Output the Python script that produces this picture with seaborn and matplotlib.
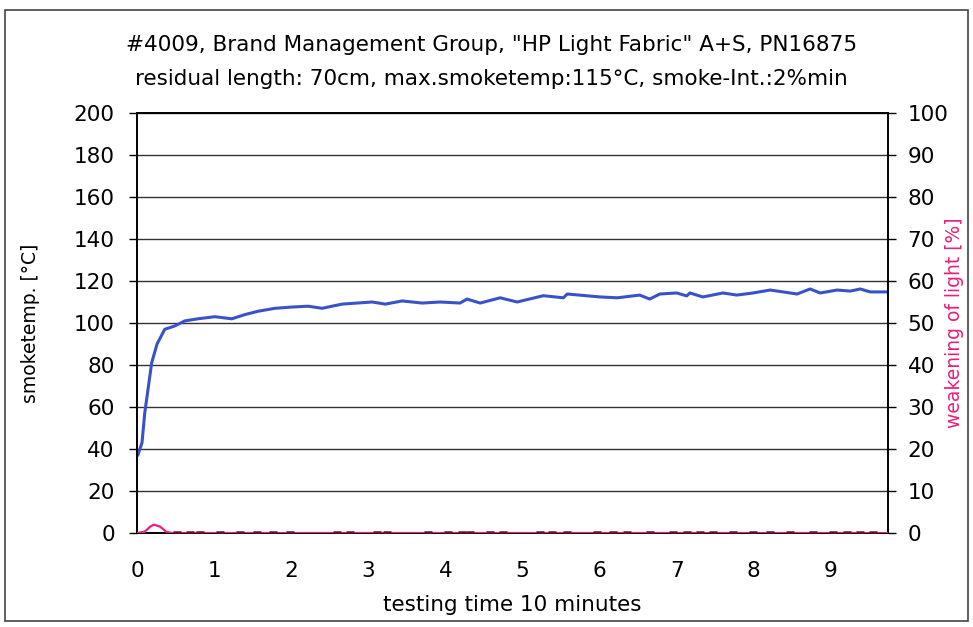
import matplotlib
matplotlib.use("Agg")
import matplotlib.pyplot as plt
import seaborn as sns
import pandas as pd
from matplotlib.patches import Rectangle

# ---- data ----
temp_time = [0.01, 0.065, 0.10, 0.19, 0.26, 0.36, 0.49, 0.62, 0.79, 1.01, 1.23, 1.40,
             1.57, 1.79, 2.01, 2.22, 2.40, 2.66, 3.05, 3.22, 3.44, 3.70, 3.93, 4.19,
             4.28, 4.45, 4.71, 4.93, 5.27, 5.53, 5.58, 6.01, 6.23, 6.52, 6.65, 6.78,
             7.00, 7.13, 7.17, 7.34, 7.60, 7.78, 7.99, 8.21, 8.38, 8.56, 8.73, 8.86,
             9.08, 9.25, 9.38, 9.51, 9.74]
smoketemp = [37, 43, 57, 81, 90, 97, 98.6, 101, 102, 103, 102, 104,
             105.6, 107, 107.6, 108, 107, 109, 110, 109, 110.5, 109.5, 110, 109.5,
             111.4, 109.5, 112, 110, 113, 112, 113.8, 112.4, 112, 113.3, 111.4, 113.8,
             114.3, 112.9, 114.3, 112.4, 114.3, 113.3, 114.3, 115.7, 114.8, 113.8, 116.2, 114.3,
             115.7, 115.2, 116.2, 114.8, 114.8]

light_time = [0.0, 0.10, 0.17, 0.22, 0.30, 0.38, 0.45, 9.74]
light_weakening = [0.0, 0.3, 1.5, 2.0, 1.5, 0.3, 0.0, 0.0]

spot_time = [0.52, 0.69, 0.82, 1.08, 1.34, 1.56, 1.76, 1.98, 2.59, 2.76, 3.11, 3.24,
             3.77, 4.03, 4.22, 4.32, 4.58, 4.75, 5.23, 5.38, 5.58, 5.97, 6.17, 6.36,
             6.65, 6.95, 7.13, 7.30, 7.47, 7.73, 7.99, 8.21, 8.47, 8.77, 9.03, 9.21,
             9.38, 9.55]
spot_value = [0.35] * len(spot_time)

left_ticks = [0, 20, 40, 60, 80, 100, 120, 140, 160, 180, 200]
right_ticks = [0, 10, 20, 30, 40, 50, 60, 70, 80, 90, 100]
x_labels = [0, 1, 2, 3, 4, 5, 6, 7, 8, 9]

title1 = '#4009, Brand Management Group, "HP Light Fabric" A+S, PN16875'
title2 = 'residual length: 70cm, max.smoketemp:115°C, smoke-Int.:2%min'

df_temp = pd.DataFrame({"t": temp_time, "v": smoketemp})
df_light = pd.DataFrame({"t": light_time, "v": light_weakening})
df_spot = pd.DataFrame({"t": spot_time, "v": spot_value})

sns.set_style("white")
plt.rcParams['font.family'] = ['DejaVu Sans']
plt.rcParams['text.color'] = 'black'
plt.rcParams['axes.labelcolor'] = 'black'
plt.rcParams['xtick.color'] = 'black'
plt.rcParams['ytick.color'] = 'black'

W, H = 973, 627
fig = plt.figure(figsize=(W / 100, H / 100), dpi=100)
ax = fig.add_axes([137 / W, 1 - 533 / H, (888 - 137) / W, (533 - 113) / H])
ax2 = ax.twinx()

blue = "#3a52c8"
pink = "#e8207e"

# grid
for v in left_ticks:
    ax.axhline(v, color="#333333", lw=1.0, zorder=0)

sns.lineplot(data=df_temp, x="t", y="v", ax=ax, color=blue, lw=2.2, zorder=3)
sns.lineplot(data=df_light, x="t", y="v", ax=ax2, color=pink, lw=1.6, zorder=3)
sns.scatterplot(data=df_spot, x="t", y="v", ax=ax2, color="#6a1030", marker="_",
                s=35, linewidth=1.8, zorder=4)

ax.set_xlim(0, 9.74)
ax.set_ylim(0, 200)
ax2.set_ylim(0, 100)

ax.set_yticks(left_ticks)
ax.set_yticklabels([str(v) for v in left_ticks])
ax2.set_yticks(right_ticks)
ax2.set_yticklabels([str(v) for v in right_ticks])

ax.set_xticks([i * 0.5 for i in range(20)], minor=False)
ax.set_xticklabels([str(x_labels[i // 2]) if i % 2 == 0 else "" for i in range(20)])

for a in (ax, ax2):
    a.tick_params(axis="both", which="major", direction="out", length=6, width=1,
                  color="black", labelcolor="black", labelsize=15.5, pad=10)
    for s in a.spines.values():
        s.set_color("black")
        s.set_linewidth(1.2)
ax.tick_params(axis="x", pad=14)
ax2.tick_params(axis="y", pad=8)

ax.set_xlabel("testing time 10 minutes", fontsize=15.5, color="black")
ax.xaxis.set_label_coords(0.5, -(605 - 533) / 420, transform=ax.transAxes)
ax.xaxis.label.set_va("center")
ax.set_ylabel("smoketemp. [°C]", fontsize=13.5, color="black")
ax.yaxis.set_label_coords(-(137 - 31) / 751, 0.5)
ax.yaxis.label.set_va("center")
ax2.set_ylabel("weakening of light [%]", fontsize=13.5, color=pink, rotation=90)
ax2.yaxis.set_label_coords((955 - 137) / 751, 0.5)
ax2.yaxis.label.set_va("center")

fig.text(0.505, 1 - 45 / H, title1, ha="center", va="center", fontsize=15.5)
fig.text(0.505, 1 - 79 / H, title2, ha="center", va="center", fontsize=15.5)

fig.patches.append(Rectangle((5 / W, 1 - 621 / H), (968 - 5) / W, (621 - 10) / H,
                             transform=fig.transFigure, fill=False,
                             edgecolor="#444444", lw=1.2))

fig.savefig("out.png", dpi=100)
